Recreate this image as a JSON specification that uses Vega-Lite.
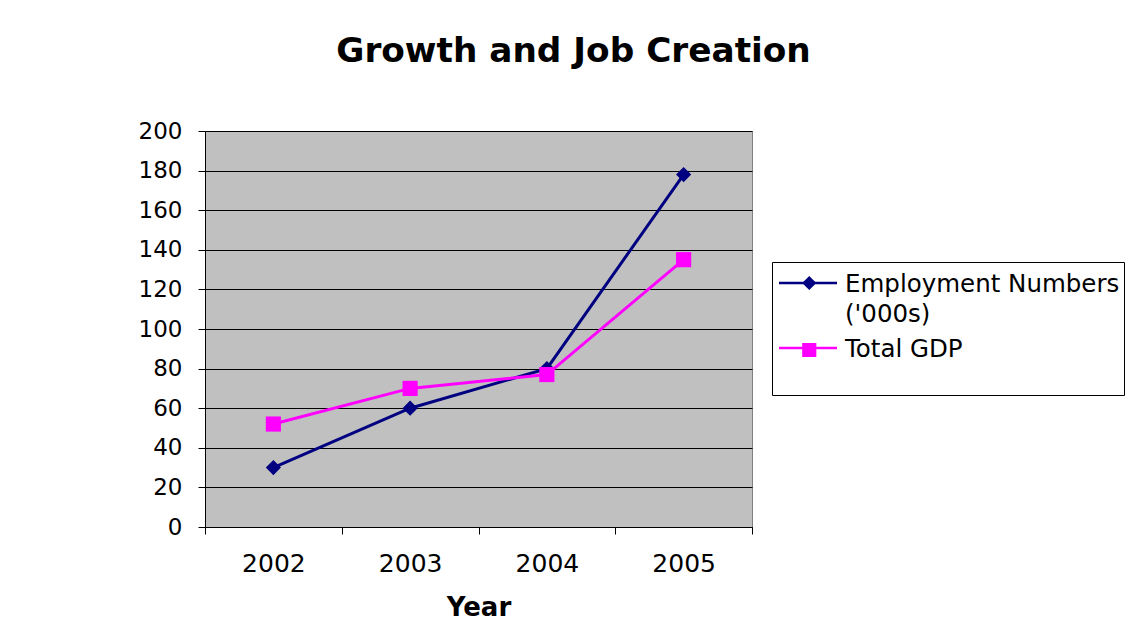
{
  "$schema": "https://vega.github.io/schema/vega-lite/v6.json",
  "width": 547,
  "height": 396,
  "autosize": {"type": "none"},
  "padding": {"left": 205, "top": 131, "right": 376, "bottom": 116},
  "background": "white",
  "title": {"text": "Growth and Job Creation", "fontSize": 34.3, "font": "DejaVu Sans", "fontWeight": "bold", "anchor": "middle", "dx": 95, "offset": 51, "color": "black"},
  "config": {"font": "DejaVu Sans", "view": {"fill": "#C0C0C0", "stroke": "#808080", "strokeWidth": 1}},
  "data": {"values": [
    {"year": 2002, "series": "Employment Numbers ('000s)", "value": 30},
    {"year": 2003, "series": "Employment Numbers ('000s)", "value": 60},
    {"year": 2004, "series": "Employment Numbers ('000s)", "value": 80},
    {"year": 2005, "series": "Employment Numbers ('000s)", "value": 178},
    {"year": 2002, "series": "Total GDP", "value": 52},
    {"year": 2003, "series": "Total GDP", "value": 70},
    {"year": 2004, "series": "Total GDP", "value": 77},
    {"year": 2005, "series": "Total GDP", "value": 135}
  ]},
  "encoding": {
    "x": {"field": "year", "type": "quantitative", "scale": {"domain": [2001.5, 2005.5], "nice": false, "zero": false},
      "axis": {"values": [2001.5, 2002.5, 2003.5, 2004.5, 2005.5], "labelExpr": "datum.value < 2005 ? format(datum.value + 0.5, 'd') : ''", "labelOffset": 68.4, "labelFlush": false, "labelOverlap": false, "grid": false, "tickSize": 7, "tickColor": "black", "domainColor": "black", "labelFontSize": 25, "labelColor": "black", "labelPadding": 17, "title": "Year", "titleFontSize": 26, "titleFontWeight": "bold", "titleColor": "black", "titlePadding": 18}},
    "y": {"field": "value", "type": "quantitative", "scale": {"domain": [0, 200], "nice": false},
      "axis": {"values": [0, 20, 40, 60, 80, 100, 120, 140, 160, 180, 200], "grid": true, "gridColor": "black", "gridWidth": 1, "gridOpacity": 1, "tickSize": 7, "tickColor": "black", "domainColor": "black", "labelFontSize": 23, "labelColor": "black", "labelPadding": 16, "title": null}}
  },
  "layer": [
    {
      "mark": {"type": "line", "strokeWidth": 3},
      "encoding": {
        "stroke": {"field": "series", "type": "nominal",
          "scale": {"domain": ["Employment Numbers ('000s)", "Total GDP"], "range": ["#000080", "#FF00FF"]},
          "legend": {"orient": "none", "legendX": 567, "legendY": 131, "title": null, "symbolType": "stroke", "symbolSize": 3364, "symbolStrokeWidth": 2.5, "symbolOffset": 1.5, "clipHeight": 34, "rowPadding": 5, "labelFontSize": 24.5, "labelColor": "black", "labelOffset": 6.5, "padding": 4, "strokeColor": "black", "labelLimit": 0, "labelBaseline": "top",
            "labelExpr": "datum.label == 'Total GDP' ? ['Total GDP', ' '] : ['Employment Numbers', \"('000s)\"]",
            "encode": {"labels": {"update": {"dy": {"value": -10.5}, "lineHeight": {"value": 30}}}}}
        }
      }
    },
    {
      "mark": {"type": "point", "filled": true, "opacity": 1, "size": 230},
      "encoding": {
        "fill": {"field": "series", "type": "nominal", "scale": {"range": ["#000080", "#FF00FF"]},
          "legend": {"orient": "none", "legendX": 567, "legendY": 131, "title": null, "symbolSize": 200, "symbolStrokeWidth": 0, "symbolOffset": 21, "clipHeight": 34, "rowPadding": -1, "labelFontSize": 24.5, "labelOffset": 4, "padding": 4, "labelLimit": 0, "labelBaseline": "top",
            "labelExpr": "[' ', ' ']",
            "encode": {"labels": {"update": {"dy": {"value": -10.5}, "lineHeight": {"value": 30}}}}}},
        "shape": {"field": "series", "type": "nominal", "scale": {"range": ["diamond", "square"]},
          "legend": {"orient": "none", "legendX": 567, "legendY": 131, "title": null, "symbolSize": 200, "symbolStrokeWidth": 0, "symbolOffset": 21, "clipHeight": 34, "rowPadding": -1, "labelFontSize": 24.5, "labelOffset": 4, "padding": 4, "labelLimit": 0, "labelBaseline": "top",
            "labelExpr": "[' ', ' ']",
            "encode": {"labels": {"update": {"dy": {"value": -10.5}, "lineHeight": {"value": 30}}}}}}
      }
    }
  ]
}
